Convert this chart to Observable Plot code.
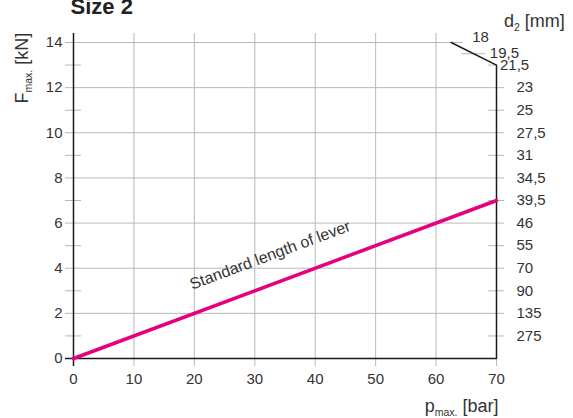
<!DOCTYPE html>
<html><head><meta charset="utf-8">
<script src="https://cdn.jsdelivr.net/npm/d3@7"></script>
<script src="https://cdn.jsdelivr.net/npm/@observablehq/plot@0.6"></script>
<style>body{margin:0;background:#fff;} svg{display:block}</style>
</head><body><div id="chart"></div>
<script>
// ---- data ----
const pressure = [0, 70];            // p_max [bar]
const force = [0, 7];                // F_max [kN]
const xTicks = [0, 10, 20, 30, 40, 50, 60, 70];
const yTicks = [0, 2, 4, 6, 8, 10, 12, 14];
const yMinor = [1, 3, 5, 7, 9, 11, 13];
const d2Labels = ["18", "19,5", "21,5", "23", "25", "27,5", "31", "34,5", "39,5", "46", "55", "70", "90", "135", "275"];
const d2Force = [14, 13.5, 13, 12, 11, 10, 9, 8, 7, 6, 5, 4, 3, 2, 1];
const edgeP = [70, 70, 62.5];
const edgeF = [0, 13, 14];
const lineLabel = "Standard length of lever";
const lineLabelAt = 33;
const title = "Size 2";

// ---- derived tables ----
const lineData = pressure.map((p, i) => ({p, F: force[i]}));
const edgeData = edgeP.map((p, i) => ({p, F: edgeF[i]}));
const d2 = d2Labels.map((label, i) => ({label, F: d2Force[i]}));
const edgeX = F => F <= 13 ? 70 : 70 - (F - 13) * (70 - 62.5);

const W = 573, H = 418, mL = 73, mR = 77, mT = 42, mB = 60;
const pxPerX = (W - mL - mR) / 70, pxPerY = (H - mT - mB) / 14;
const angle = -Math.atan2(7 * pxPerY, 70 * pxPerX) * 180 / Math.PI;

const grid = "#b8b8b8", ink = "#333", axisInk = "#1a1a1a", pink = "#e5007d";
const font = "'Liberation Sans', Arial, Helvetica, sans-serif";

const chart = Plot.plot({
  width: W, height: H,
  marginLeft: mL, marginRight: mR, marginTop: mT, marginBottom: mB,
  x: {domain: [0, 70]},
  y: {domain: [0, 14]},
  style: {fontFamily: font, color: ink, background: "#fff", overflow: "visible"},
  marks: [
    // vertical grid
    Plot.ruleX(xTicks.slice(1, -1), {stroke: grid, insetTop: -9}),
    // horizontal grid (even values)
    Plot.ruleY(yTicks.filter(v => v > 0 && v < 14), {stroke: grid, insetLeft: -8, insetRight: -8}),
    Plot.ruleY([14], {x1: () => 0, x2: () => edgeX(14), stroke: grid, insetLeft: -8, insetRight: -12}),
    // minor ticks left
    Plot.ruleY(yMinor, {x1: () => 0, x2: () => 0, stroke: grid, insetLeft: -8, insetRight: -8}),
    // minor ticks right
    Plot.ruleY(yMinor.filter(v => v < 13), {x1: () => 70, x2: () => 70, stroke: grid, insetLeft: -8, insetRight: -8}),
    Plot.ruleY([13], {x1: () => 70, x2: () => 70, stroke: grid, insetLeft: -8, insetRight: 0}),
    Plot.ruleY([13.5], {x1: d => edgeX(d), x2: d => edgeX(d), stroke: grid, insetLeft: -12, insetRight: -12}),
    // x axis ticks + labels
    Plot.axisX({ticks: xTicks, tickSize: 8, tickPadding: 7, stroke: grid, fill: ink, fontSize: 15, label: null, tickFormat: d => String(d)}),
    // y axis labels
    Plot.axisY({ticks: yTicks, tickSize: 0, tickPadding: 11, fill: ink, fontSize: 15, label: null, tickFormat: d => String(d)}),
    // black axes
    Plot.ruleY([0], {stroke: axisInk, strokeWidth: 1.5, insetLeft: -8}),
    Plot.ruleX([0], {y1: () => 14, y2: () => 0, stroke: axisInk, strokeWidth: 1.5, insetTop: -9, insetBottom: -8}),
    Plot.line(edgeData, {x: "p", y: "F", stroke: axisInk, strokeWidth: 1.5}),
    // data line
    Plot.line(lineData, {x: "p", y: "F", stroke: pink, strokeWidth: 3.5}),
    Plot.text([lineLabel], {x: () => lineLabelAt, y: () => force[1] * lineLabelAt / pressure[1], text: d => d,
      rotate: angle, textAnchor: "middle", lineAnchor: "bottom", dx: -1, dy: -24, fontSize: 16, fill: ink}),
    // right d2 labels
    Plot.text(d2.slice(3), {x: () => 70, y: "F", text: "label", dx: 20, textAnchor: "start", lineAnchor: "middle", fontSize: 15, fill: ink}),
    Plot.text(d2.slice(0, 1), {x: d => edgeX(d.F), y: "F", text: "label", dx: 21, dy: -5, textAnchor: "start", lineAnchor: "middle", fontSize: 15, fill: ink}),
    Plot.text(d2.slice(1, 2), {x: d => edgeX(d.F), y: "F", text: "label", dx: 16, dy: -1, textAnchor: "start", lineAnchor: "middle", fontSize: 15, fill: ink}),
    Plot.text(d2.slice(2, 3), {x: d => edgeX(d.F), y: "F", text: "label", dx: 3.5, dy: 0, textAnchor: "start", lineAnchor: "middle", fontSize: 15, fill: ink}),
    // titles
    Plot.text([title], {frameAnchor: "top-left", text: d => d, textAnchor: "start", lineAnchor: "bottom", dx: -3, dy: -29, fontSize: 22, fontWeight: "bold", fill: "#222"}),
    Plot.text(["F|max.|[kN]"], {frameAnchor: "top-left", text: d => d, rotate: -90, textAnchor: "start", lineAnchor: "bottom", dx: -46, dy: 61, fontSize: 18, fill: ink}),
    Plot.text(["p|max.|[bar]"], {frameAnchor: "bottom-right", text: d => d, textAnchor: "end", lineAnchor: "bottom", dx: 2, dy: 53.5, fontSize: 18, fill: ink}),
    Plot.text(["d|2|[mm]"], {frameAnchor: "top-right", text: d => d, textAnchor: "start", lineAnchor: "bottom", dx: 7.5, dy: -15.5, fontSize: 18, fill: ink})
  ]
});

// subscripts
const NS = "http://www.w3.org/2000/svg";
chart.querySelectorAll("text").forEach(t => {
  const s = t.textContent;
  if (s.includes("|")) {
    const [a, b, c] = s.split("|");
    t.textContent = "";
    const t1 = document.createElementNS(NS, "tspan"); t1.textContent = a;
    const t2 = document.createElementNS(NS, "tspan"); t2.textContent = b;
    t2.setAttribute("font-size", "10.5"); t2.setAttribute("dy", "4");
    const t3 = document.createElementNS(NS, "tspan"); t3.textContent = " " + c;
    t3.setAttribute("dy", "-4");
    t.append(t1, t2, t3);
  }
});
document.getElementById("chart").append(chart);
</script>
</body></html>
